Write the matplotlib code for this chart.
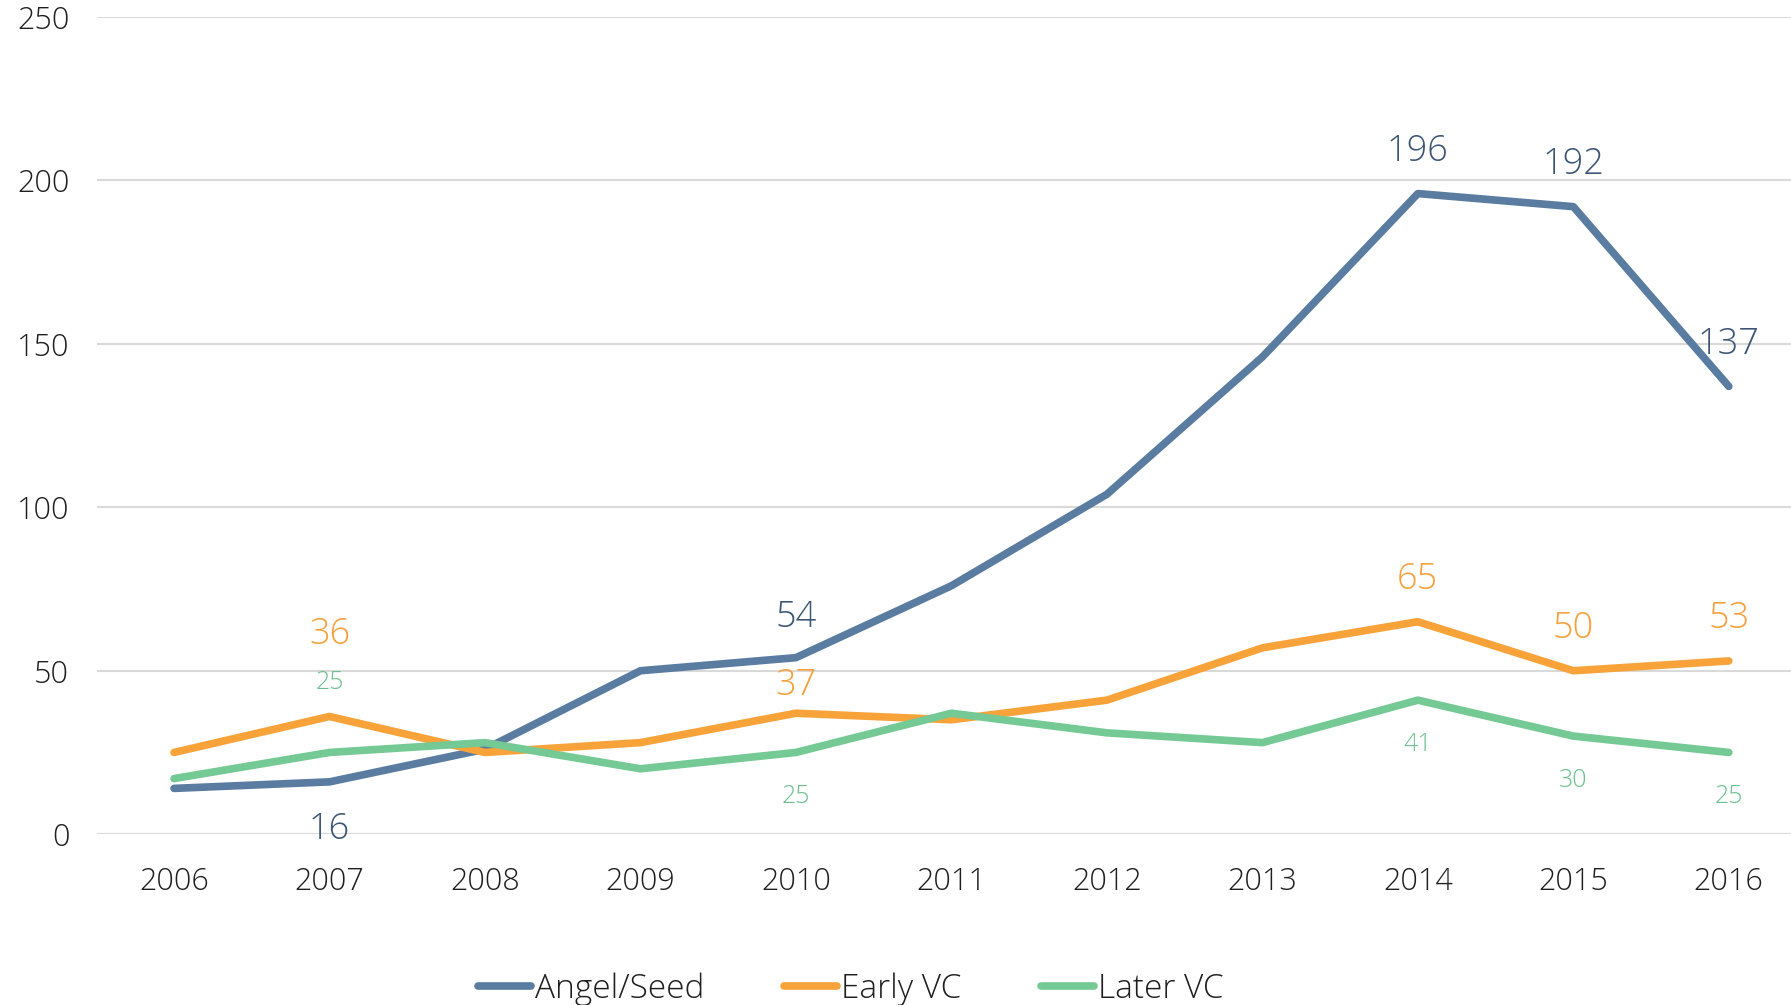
import matplotlib
matplotlib.use("Agg")
import matplotlib.pyplot as plt

years = ["2006", "2007", "2008", "2009", "2010", "2011", "2012", "2013", "2014", "2015", "2016"]
angel_seed = [14, 16, 26, 50, 54, 76, 104, 146, 196, 192, 137]
early_vc = [25, 36, 25, 28, 37, 35, 41, 57, 65, 50, 53]
later_vc = [17, 25, 28, 20, 25, 37, 31, 28, 41, 30, 25]
y_ticks = [0, 50, 100, 150, 200, 250]

# labelled points: (index, pixel offset y)
angel_labels = [(1, -48), (4, 40), (8, 42), (9, 42), (10, 42)]
early_labels = [(1, 82), (4, 28), (8, 42), (9, 42), (10, 42)]
later_labels = [(1, 70), (4, -44), (8, -44), (9, -44), (10, -44)]

c_angel = "#5a7ca0"
c_early = "#f8a23a"
c_later = "#74c995"
c_angel_txt = "#3e5676"
c_early_txt = "#f7a03c"
c_later_txt = "#6cc08e"
c_text = "#1f1f1f"

plt.rcParams['font.family'] = ['Open Sans', 'DejaVu Sans']

fig = plt.figure(figsize=(17.91, 10.05), dpi=100)
ax = fig.add_axes([0.0542, 0.170, 0.9458, 0.813])

x = list(range(len(years)))
kw = dict(lw=5.5, solid_capstyle='round', solid_joinstyle='round', zorder=3)
l1, = ax.plot(x, angel_seed, color=c_angel, label="Angel/Seed", **kw)
l2, = ax.plot(x, early_vc, color=c_early, label="Early VC", **kw)
l3, = ax.plot(x, later_vc, color=c_later, label="Later VC", **kw)

for series, labels, col, fs in [(angel_seed, angel_labels, c_angel_txt, 26),
                                (early_vc, early_labels, c_early_txt, 26),
                                (later_vc, later_labels, c_later_txt, 18)]:
    for i, dy in labels:
        ax.annotate(str(series[i]), (x[i], series[i]), xytext=(0, dy),
                    textcoords='offset pixels', ha='center', va='center',
                    fontsize=fs, color=col, fontweight='light', zorder=4)

ax.set_xlim(-0.495, 10.40)
ax.set_ylim(0, 250)
ax.set_yticks(y_ticks)
ax.set_xticks(x)
ax.set_xticklabels(years)
ax.grid(axis='y', color='#d9d9d9', lw=1.5)
ax.set_axisbelow(True)
for s in ax.spines.values():
    s.set_visible(False)
ax.tick_params(axis='both', length=0, colors=c_text, labelsize=22)
ax.tick_params(axis='y', pad=20)
ax.tick_params(axis='x', pad=23)
for lbl in ax.get_xticklabels() + ax.get_yticklabels():
    lbl.set_fontweight('light')

leg = fig.legend(handles=[l1, l2, l3], loc='center', bbox_to_anchor=(0.475, 0.016),
                 ncol=3, frameon=False, fontsize=24, handlelength=1.6,
                 handletextpad=0.1, columnspacing=2.4)
for t in leg.get_texts():
    t.set_color(c_text)
    t.set_fontweight('light')

fig.savefig("out.png", dpi=100)
